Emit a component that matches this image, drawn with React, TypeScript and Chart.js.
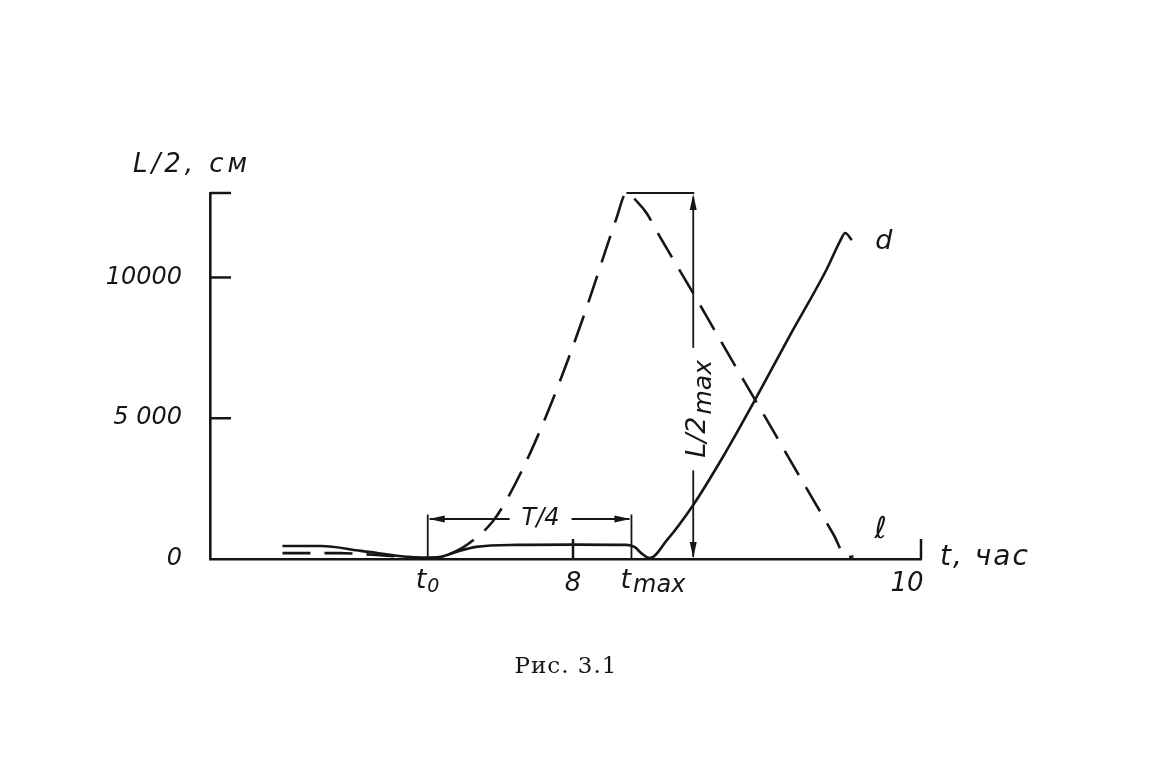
import React, { useEffect, useRef } from "react";
import { Chart, registerables } from "chart.js";

Chart.register(...registerables);

// ---- data (t in hours, L/2 in cm) ----
const solidT = [6.26, 6.49, 6.73, 7.02, 7.13, 7.21, 7.30, 7.42, 7.66, 8.0, 8.32, 8.37, 8.41, 8.46, 8.56, 8.72, 8.90, 9.09, 9.30, 9.52, 9.60, 9.63, 9.67];
const solidL = [460, 460, 290, 70, 40, 80, 250, 430, 500, 510, 500, 420, 200, 30, 650, 1920, 3650, 5650, 7950, 10300, 11300, 11580, 11330];

const dashT = [6.26, 6.60, 6.80, 7.02, 7.13, 7.20, 7.29, 7.38, 7.52, 7.62, 7.75, 7.87, 7.97, 8.06, 8.12, 8.20, 8.26, 8.32, 8.39, 8.44, 8.52, 8.70, 8.80, 8.92, 9.08, 9.20, 9.32, 9.46, 9.56, 9.64, 9.68];
const dashL = [210, 210, 150, 70, 40, 80, 250, 570, 1340, 2290, 3850, 5530, 7080, 8560, 9610, 11050, 12100, 13000, 12650, 12290, 11450, 9640, 8620, 7380, 5760, 4540, 3310, 1890, 870, 60, 100];

const xTickValues = [8, 10];
const xTickLabels = ["8", "10"];
const yTickValues = [0, 5000, 10000, 13000];
const yTickLabels = ["0", "5 000", "10000", ""];

const X_MIN = 5.826;
const X_MAX = 10.084;
const Y_MAX = 13000;
const T0 = 7.13;
const TMAX = 8.35;
const L_MAX = 13000;
const L_MAX_T = 8.72;
const T4_LEVEL = 1420;
const T4_TOP = 1580;

const INK = "#161616";
const FONT = '"DejaVu Sans", "Liberation Sans", sans-serif';

function arrow(ctx: CanvasRenderingContext2D, x: number, y: number, dx: number, dy: number, len = 16, half = 3.5) {
  const px = -dy, py = dx;
  ctx.beginPath();
  ctx.moveTo(x, y);
  ctx.lineTo(x - dx * len + px * half, y - dy * len + py * half);
  ctx.lineTo(x - dx * len - px * half, y - dy * len - py * half);
  ctx.closePath();
  ctx.fill();
}

function line(ctx: CanvasRenderingContext2D, x1: number, y1: number, x2: number, y2: number) {
  ctx.beginPath();
  ctx.moveTo(x1, y1);
  ctx.lineTo(x2, y2);
  ctx.stroke();
}

const decorPlugin = {
  id: "decor",
  afterDraw(chart: any) {
    const { ctx, chartArea } = chart;
    const xs = chart.scales.x;
    const ys = chart.scales.y;
    const px = (v: number) => xs.getPixelForValue(v);
    const py = (v: number) => ys.getPixelForValue(v);
    const L = chartArea.left, B = chartArea.bottom, R = chartArea.right, T = chartArea.top;
    ctx.save();
    ctx.strokeStyle = INK;
    ctx.fillStyle = INK;
    ctx.lineCap = "butt";

    // inward ticks
    ctx.lineWidth = 2.5;
    [5000, 10000, 13000].forEach((v) => line(ctx, L, py(v), L + 21, py(v)));
    line(ctx, px(8), B, px(8), B - 20);
    line(ctx, R, B, R, B - 20);

    // L/2max dimension
    ctx.lineWidth = 1.8;
    line(ctx, px(8.32), py(L_MAX), px(L_MAX_T) + 1, py(L_MAX));
    const ax = px(L_MAX_T);
    line(ctx, ax, py(L_MAX) + 4, ax, py(7500));
    line(ctx, ax, py(3150), ax, B - 2);
    arrow(ctx, ax, py(L_MAX) + 1, 0, -1);
    arrow(ctx, ax, B - 1, 0, 1);
    ctx.save();
    ctx.translate(ax + 12, py(5330));
    ctx.rotate(-Math.PI / 2);
    ctx.textBaseline = "alphabetic";
    ctx.textAlign = "left";
    ctx.font = `italic 27px ${FONT}`;
    const w1 = ctx.measureText("L/2").width;
    ctx.font = `italic 25px ${FONT}`;
    const w2 = ctx.measureText("max").width;
    const start = -(w1 + w2 + 2) / 2;
    ctx.font = `italic 27px ${FONT}`;
    ctx.fillText("L/2", start, 0);
    ctx.font = `italic 25px ${FONT}`;
    ctx.fillText("max", start + w1 + 2, 6);
    ctx.restore();

    // T/4 dimension
    const x0 = px(T0), x1 = px(TMAX);
    const yl = py(T4_LEVEL);
    line(ctx, x0, B, x0, py(T4_TOP));
    line(ctx, x1, B, x1, py(T4_TOP));
    const mid = (x0 + x1) / 2 + 10;
    line(ctx, x0 + 2, yl, mid - 30, yl);
    line(ctx, mid + 32, yl, x1 - 2, yl);
    arrow(ctx, x0 + 1, yl, -1, 0);
    arrow(ctx, x1 - 1, yl, 1, 0);
    ctx.font = `italic 24px ${FONT}`;
    ctx.textAlign = "center";
    ctx.textBaseline = "middle";
    ctx.fillText("T/4", mid + 1, yl);

    // t0 and tmax labels under the axis
    ctx.textAlign = "left";
    ctx.textBaseline = "alphabetic";
    ctx.font = `italic 27px ${FONT}`;
    ctx.fillText("t", x0 - 12, B + 29);
    const tw = ctx.measureText("t").width;
    ctx.font = `italic 19px ${FONT}`;
    ctx.fillText("0", x0 - 12 + tw + 1, B + 33);
    ctx.font = `italic 27px ${FONT}`;
    ctx.fillText("t", x1 - 11, B + 29);
    ctx.font = `italic 24px ${FONT}`;
    ctx.fillText("max", x1 - 11 + tw + 2, B + 33);

    // curve labels
    ctx.font = `italic 27px ${FONT}`;
    ctx.textAlign = "center";
    ctx.textBaseline = "middle";
    ctx.fillText("d", px(solidT[solidT.length - 1]) + 32, py(solidL[solidL.length - 1]) + 2);
    ctx.font = `italic 30px ${FONT}`;
    ctx.fillText("\u2113", px(dashT[dashT.length - 1]) + 27, py(dashL[dashL.length - 1]) - 26);

    // axis titles
    ctx.textAlign = "left";
    ctx.textBaseline = "alphabetic";
    ctx.font = `italic 28px ${FONT}`;
    (ctx as any).letterSpacing = "2px";
    ctx.fillText("t, час", R + 19, B + 6);
    ctx.font = `italic 26px ${FONT}`;
    (ctx as any).letterSpacing = "4px";
    ctx.fillText("L/2, см", L - 77, T - 21);
    (ctx as any).letterSpacing = "1px";

    // caption
    ctx.font = `23px "DejaVu Serif", "Liberation Serif", serif`;
    ctx.textAlign = "center";
    ctx.fillText("Рис. 3.1", 566, 673);
    ctx.restore();
  },
};

export default function App() {
  const ref = useRef<HTMLCanvasElement | null>(null);
  useEffect(() => {
    if (!ref.current) return;
    const chart = new Chart(ref.current, {
      type: "line",
      data: {
        datasets: [
          {
            label: "d",
            data: solidT.map((t, i) => ({ x: t, y: solidL[i] })),
            borderColor: INK,
            borderWidth: 2.6,
            pointRadius: 0,
            fill: false,
            cubicInterpolationMode: "monotone",
            clip: false as any,
          },
          {
            label: "ℓ",
            data: dashT.map((t, i) => ({ x: t, y: dashL[i] })),
            borderColor: INK,
            borderWidth: 2.6,
            borderDash: [28, 14],
            pointRadius: 0,
            fill: false,
            cubicInterpolationMode: "monotone",
            clip: false as any,
          },
        ],
      },
      options: {
        animation: false,
        responsive: false,
        devicePixelRatio: 1,
        events: [],
        layout: { padding: { left: 90, right: 250, top: 193, bottom: 165 } },
        plugins: { legend: { display: false }, tooltip: { enabled: false }, title: { display: false } },
        scales: {
          x: {
            type: "linear",
            min: X_MIN,
            max: X_MAX,
            afterBuildTicks: (s: any) => {
              s.ticks = xTickValues.map((v) => ({ value: v }));
            },
            afterFit: (s: any) => {
              s.height = 50;
            },
            ticks: {
              color: INK,
              padding: 10,
              maxRotation: 0,
              autoSkip: false,
              font: { family: FONT, size: 26, style: "italic" },
              callback: (v: any) => xTickLabels[xTickValues.indexOf(Number(v))] ?? "",
            },
            grid: { display: false, drawTicks: false },
            border: { display: true, color: INK, width: 2.6 },
          },
          y: {
            type: "linear",
            min: 0,
            max: Y_MAX,
            afterBuildTicks: (s: any) => {
              s.ticks = yTickValues.map((v) => ({ value: v }));
            },
            afterFit: (s: any) => {
              s.width = 120;
            },
            ticks: {
              color: INK,
              padding: 28,
              autoSkip: false,
              font: { family: FONT, size: 24, style: "italic" },
              callback: (v: any) => yTickLabels[yTickValues.indexOf(Number(v))] ?? "",
            },
            grid: { display: false, drawTicks: false },
            border: { display: true, color: INK, width: 2.6 },
          },
        },
      },
      plugins: [decorPlugin],
    } as any);
    return () => chart.destroy();
  }, []);
  return (
    <div style={{ position: "absolute", left: 0, top: 0, width: 1171, height: 774, background: "#fff" }}>
      <canvas ref={ref} width={1171} height={774} style={{ display: "block", width: 1171, height: 774 }} />
    </div>
  );
}
